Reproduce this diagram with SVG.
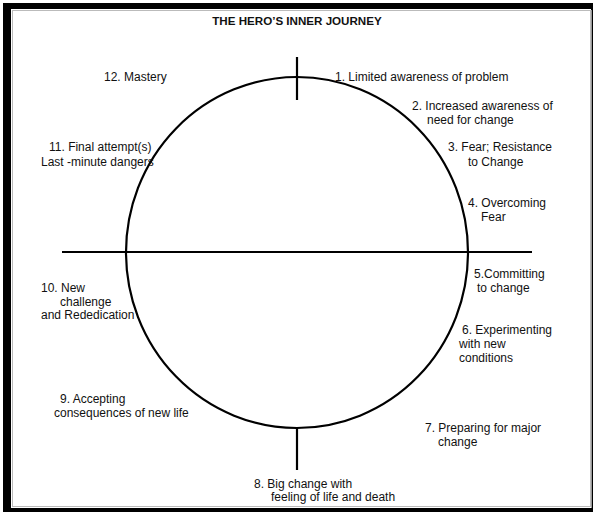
<svg xmlns="http://www.w3.org/2000/svg" width="593" height="512" viewBox="0 0 593 512">
  <style>
    .lbl { font-family: "Liberation Sans", Arial, sans-serif; font-size: 12px; fill: #111; }
    .title { font-family: "Liberation Sans", Arial, sans-serif; font-size: 11.6px; font-weight: bold; fill: #111; }
    .ln { stroke: #000; stroke-width: 2.2; fill: none; }
  </style>
  <!-- page frame -->
  <rect x="3" y="3" width="590" height="509" fill="#000"/>
  <rect x="11" y="9" width="580" height="499" fill="#fff"/>
  <rect x="12.5" y="10.5" width="578" height="496" fill="none" stroke="#bbb" stroke-width="1"/>
  <line x1="591.5" y1="10" x2="591.5" y2="508" stroke="#999" stroke-width="1"/>

  <text class="title" x="297" y="25" text-anchor="middle">THE HERO’S INNER JOURNEY</text>

  <g id="connectors">
    <ellipse class="ln" cx="297" cy="252.5" rx="171" ry="175.5"/>
    <line class="ln" x1="62" y1="252" x2="532" y2="252"/>
    <line class="ln" x1="297" y1="57" x2="297" y2="100"/>
    <line class="ln" x1="297" y1="428" x2="297" y2="470"/>
  </g>

  <g id="stage1"><text class="lbl" x="335" y="81">1. Limited awareness of problem</text></g>
  <g id="stage2"><text class="lbl" x="412" y="110">2. Increased awareness of</text><text class="lbl" x="427" y="124">need for change</text></g>
  <g id="stage3"><text class="lbl" x="448" y="151">3. Fear; Resistance</text><text class="lbl" x="468" y="166">to Change</text></g>
  <g id="stage4"><text class="lbl" x="468" y="207">4. Overcoming</text><text class="lbl" x="481" y="221">Fear</text></g>
  <g id="stage5"><text class="lbl" x="474" y="278">5.Committing</text><text class="lbl" x="477" y="292">to change</text></g>
  <g id="stage6"><text class="lbl" x="462" y="334">6. Experimenting</text><text class="lbl" x="459" y="348">with new</text><text class="lbl" x="459" y="362">conditions</text></g>
  <g id="stage7"><text class="lbl" x="425" y="432">7. Preparing for major</text><text class="lbl" x="438" y="446">change</text></g>
  <g id="stage8"><text class="lbl" x="254" y="488">8. Big change with</text><text class="lbl" x="271" y="501">feeling of life and death</text></g>
  <g id="stage9"><text class="lbl" x="60" y="403">9. Accepting</text><text class="lbl" x="54" y="417">consequences of new life</text></g>
  <g id="stage10"><text class="lbl" x="41" y="292">10. New</text><text class="lbl" x="60" y="306">challenge</text><text class="lbl" x="41" y="319">and Rededication</text></g>
  <g id="stage11"><text class="lbl" x="49" y="151">11. Final attempt(s)</text><text class="lbl" x="41" y="166">Last -minute dangers</text></g>
  <g id="stage12"><text class="lbl" x="104" y="81">12.  Mastery</text></g>
</svg>
